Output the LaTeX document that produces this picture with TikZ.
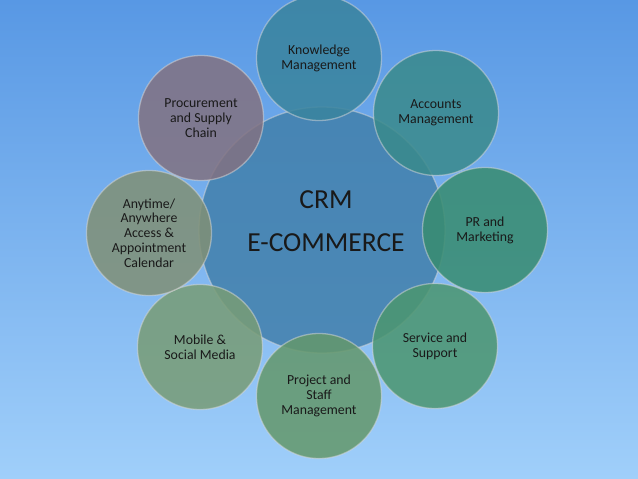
\documentclass[tikz,border=0pt]{standalone}
\usepackage{fontspec}
\setmainfont{Carlito}
\definecolor{bgtop}{RGB}{88,152,228}
\definecolor{bgbot}{RGB}{160,207,250}
\definecolor{hubblue}{RGB}{66,128,172}
\definecolor{knowcol}{RGB}{58,132,158}
\definecolor{acccol}{RGB}{58,138,140}
\definecolor{prcol}{RGB}{56,140,112}
\definecolor{servcol}{RGB}{76,150,112}
\definecolor{projcol}{RGB}{100,152,108}
\definecolor{mobcol}{RGB}{120,156,118}
\definecolor{anycol}{RGB}{128,144,118}
\definecolor{proccol}{RGB}{130,114,130}
\tikzset{
  orb/.style={circle, inner sep=0pt, align=center, minimum size=125pt,
    fill opacity=0.86, text opacity=1, draw=white!70!gray, draw opacity=0.5,
    line width=1.3pt, text=black!90, font=\fontsize{13.8}{14.8}\selectfont},
  hub/.style={orb, minimum size=246pt, fill=hubblue}
}
\begin{document}
\begin{tikzpicture}[x=1pt, y=-1pt]
\useasboundingbox (0,0) rectangle (638,479);
% background
\shade[top color=bgtop, bottom color=bgbot] (0,0) rectangle (638,479);
% hub
\node[hub] (crm) at (322,230) {};
\node[text=black!90, align=center, font=\fontsize{27.5}{43}\selectfont] (crmtext) at (326,221) {CRM\\E-COMMERCE};
% ring of modules
\node[orb, fill=knowcol] (know) at (319,58) {Knowledge\\Management};
\node[orb, fill=acccol] (acc) at (436,113) {Accounts\\Management};
\node[orb, fill=prcol] (pr) at (485,230) {PR and\\Marketing};
\node[orb, fill=servcol] (serv) at (435,346) {Service and\\Support};
\node[orb, fill=projcol] (proj) at (319,396) {Project and\\Staff\\Management};
\node[orb, fill=mobcol] (mob) at (200,347) {Mobile \&\\Social Media};
\node[orb, fill=anycol] (any) at (149,233) {Anytime/\\Anywhere\\Access \&\\Appointment\\Calendar};
\node[orb, fill=proccol] (proc) at (201,118) {Procurement\\and Supply\\Chain};
\end{tikzpicture}
\end{document}
